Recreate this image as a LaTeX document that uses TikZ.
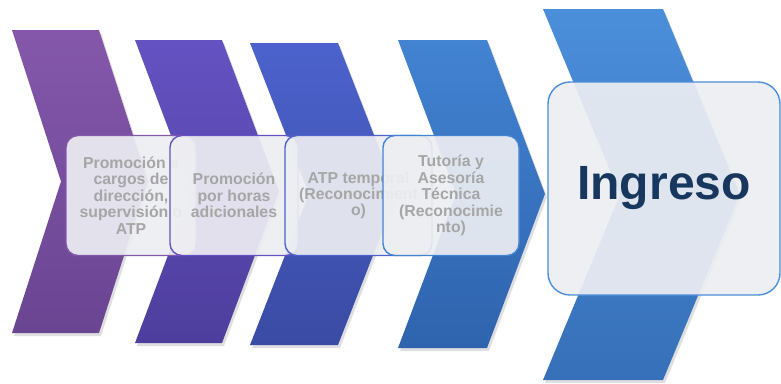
\documentclass[tikz,border=0pt]{standalone}
\usepackage{fontspec}
\setmainfont{Liberation Sans}
\usetikzlibrary{shadows}
\definecolor{chevOneTop}{HTML}{8457AB}
\definecolor{chevOneBot}{HTML}{6A4592}
\definecolor{chevTwoTop}{HTML}{6452C2}
\definecolor{chevTwoBot}{HTML}{4E3E9C}
\definecolor{chevThreeTop}{HTML}{4C62CC}
\definecolor{chevThreeBot}{HTML}{3A4BA4}
\definecolor{chevFourTop}{HTML}{4283D2}
\definecolor{chevFourBot}{HTML}{2F63AD}
\definecolor{chevFiveTop}{HTML}{4B8EDA}
\definecolor{chevFiveBot}{HTML}{3670B8}
\definecolor{boxFill}{HTML}{EDEEF2}
\definecolor{boxText}{HTML}{A6A6A6}
\definecolor{mainText}{HTML}{17375E}

% chevron: left x, top y, bottom y, width, depth, colour prefix
\newcommand{\chevron}[6]{%
    \path[chev, top color=#6Top, bottom color=#6Bot]
        (#1,#2) -- ({#1+#4},#2) -- ({#1+#4+#5},{(#2+#3)/2})
        -- ({#1+#4},#3) -- (#1,#3) -- ({#1+#5},{(#2+#3)/2}) -- cycle;
}

\begin{document}
\begin{tikzpicture}[
    x=0.3mm, y=-0.3mm,
    % Chevron Style
    chev/.style={
        draw=none,
        drop shadow={opacity=0.25, shadow xshift=0.6mm, shadow yshift=-0.9mm}
    },
    % Box Styles
    stage/.style={
        rectangle,
        rounded corners=3.6mm,
        fill=boxFill,
        fill opacity=0.92,
        text opacity=1,
        line width=1.2pt,
        align=center,
        text=boxText,
        font=\bfseries\fontsize{13.5}{14}\selectfont,
        minimum height=36mm,
        inner sep=0pt
    },
    goal/.style={
        stage,
        rounded corners=6.6mm,
        text=mainText,
        font=\bfseries\fontsize{41}{44}\selectfont
    }
]
    \useasboundingbox (0,0) rectangle (781,383);

    % --- Chevrons ---
    \chevron{12}{30}{333}{87}{49}{chevOne}
    \chevron{135}{40}{343}{87}{57}{chevTwo}
    \chevron{250}{43}{345}{88}{59}{chevThree}
    \chevron{398}{40}{348}{89}{58}{chevFour}
    \chevron{543}{9}{380}{120}{77}{chevFive}

    % --- Nodes ---
    \node[stage, draw=chevOneTop, minimum width=39mm] (promo) at (131,195.5)
        {Promoción a\\cargos de\\dirección,\\supervisión o\\ATP};
    \node[stage, draw=chevTwoTop, minimum width=38.4mm] (horas) at (234,195.5)
        {Promoción\\por horas\\adicionales};
    \node[stage, draw=chevThreeTop, minimum width=44.1mm] (atp) at (358.5,195.5)
        {ATP temporal\\(Reconocimient\\o)};
    \node[stage, draw=chevFourTop, minimum width=40.8mm] (tutoria) at (451,195.5)
        {Tutoría y\\Asesoría\\Técnica\\(Reconocimie\\nto)};
    \node[goal, draw=chevFiveTop, minimum width=69.6mm, minimum height=63.9mm] (ingreso) at (664,188.5)
        {Ingreso};

\end{tikzpicture}
\end{document}
